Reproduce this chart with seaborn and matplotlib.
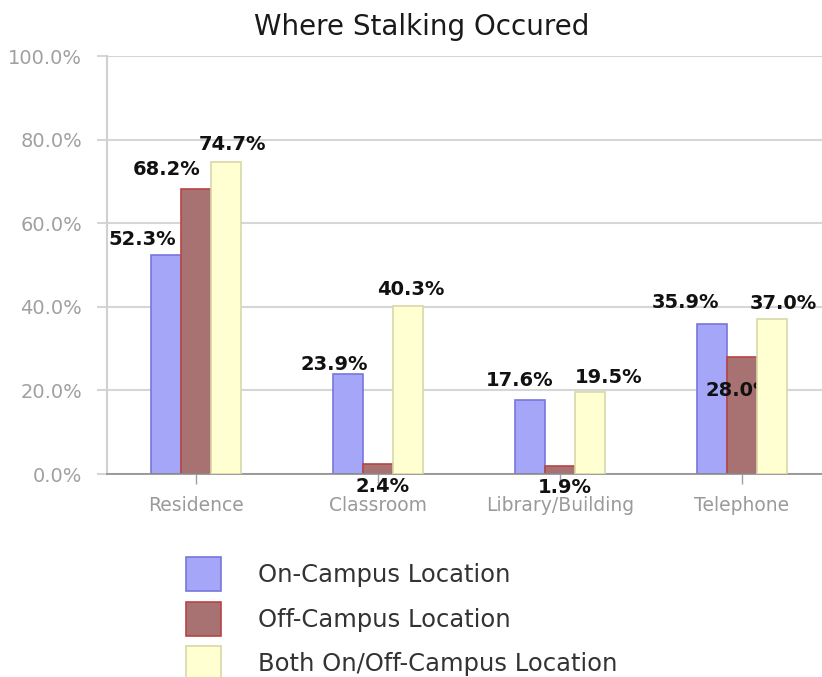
import pandas as pd
import seaborn as sns
import matplotlib.pyplot as plt
from matplotlib.patches import Patch
from matplotlib.ticker import FuncFormatter, MultipleLocator

locations = ["Residence", "Classroom", "Library/Building", "Telephone"]
series = ["On-Campus Location", "Off-Campus Location", "Both On/Off-Campus Location"]
on_campus = [52.3, 23.9, 17.6, 35.9]
off_campus = [68.2, 2.4, 1.9, 28.0]
both = [74.7, 40.3, 19.5, 37.0]

fill_colors = ["#a6a6f8", "#a87272", "#ffffd2"]
edge_colors = ["#7777dd", "#b84444", "#d8d8a8"]

# label offsets from each bar top, in pixels (dx right, dy up), per series
label_offsets = [
    [(-24, 16), (-14, 10), (-10, 20), (-26, 21)],
    [(-29, 19), (5, -23), (5, -21), (-3, -34)],
    [(6, 17), (3, 16), (19, 15), (11, 16)],
]

rows = []
for name, vals in zip(series, [on_campus, off_campus, both]):
    for loc, v in zip(locations, vals):
        rows.append({"Location": loc, "Series": name, "Percent": v})
df = pd.DataFrame(rows)

sns.set_style("white")
plt.rcParams["font.family"] = ["DejaVu Sans"]

fig = plt.figure(figsize=(8.22, 6.77), dpi=100)
ax = fig.add_axes([107 / 822, 1 - 474 / 677, 1 - 107 / 822, 418 / 677])

sns.barplot(data=df, x="Location", y="Percent", hue="Series", order=locations,
            hue_order=series, palette=fill_colors, saturation=1, width=0.495,
            gap=0, legend=False, ax=ax)

for i, cont in enumerate(ax.containers):
    for bar in cont:
        bar.set_edgecolor(edge_colors[i])
        bar.set_linewidth(1.2)
        bar.set_zorder(3 if i == 2 else 2)
    for j, bar in enumerate(cont):
        x = bar.get_x() + bar.get_width() / 2
        y = bar.get_height()
        dx, dy = label_offsets[i][j]
        ax.annotate(f"{y:.1f}%", xy=(x, y), xytext=(dx, dy), textcoords="offset pixels",
                    ha="center", va="center", fontsize=14, fontweight="bold",
                    color="#111111", zorder=2.5, annotation_clip=False)

ax.set_xlim(-0.489, 3.44)
ax.set_ylim(0, 100)
ax.yaxis.set_major_locator(MultipleLocator(20))
ax.yaxis.set_major_formatter(FuncFormatter(lambda v, p: f"{v:.1f}%"))
ax.yaxis.grid(True, color="#d6d6d6", linewidth=1.5, zorder=0)
ax.set_axisbelow(True)
ax.set_xlabel("")
ax.set_ylabel("")

for s in ["top", "right"]:
    ax.spines[s].set_visible(False)
ax.spines["left"].set_color("#d0d0d0")
ax.spines["left"].set_linewidth(1.5)
ax.spines["bottom"].set_color("#8c8c8c")
ax.spines["bottom"].set_linewidth(1.2)

ax.tick_params(axis="y", length=7, width=1.5, color="#d6d6d6", pad=11,
               labelsize=14, labelcolor="#a0a0a0", left=True)
ax.tick_params(axis="x", length=7, width=1, color="#a0a0a0", pad=9,
               labelsize=13.5, labelcolor="#9a9a9a", bottom=True)

fig.text(422 / 822, 1 - 27 / 677, "Where Stalking Occured", ha="center", va="center",
         fontsize=20, color="#1a1a1a")

handles = [Patch(facecolor=f, edgecolor=e, linewidth=1.2) for f, e in zip(fill_colors, edge_colors)]
fig.legend(handles, series, loc="upper left", bbox_to_anchor=(186 / 822, 1 - 557 / 677),
           frameon=False, fontsize=17.5, handlelength=1.44, handleheight=1.8,
           labelspacing=0.42, handletextpad=1.52, borderpad=0, borderaxespad=0,
           labelcolor="#333333")

fig.savefig("out.png", dpi=100)
